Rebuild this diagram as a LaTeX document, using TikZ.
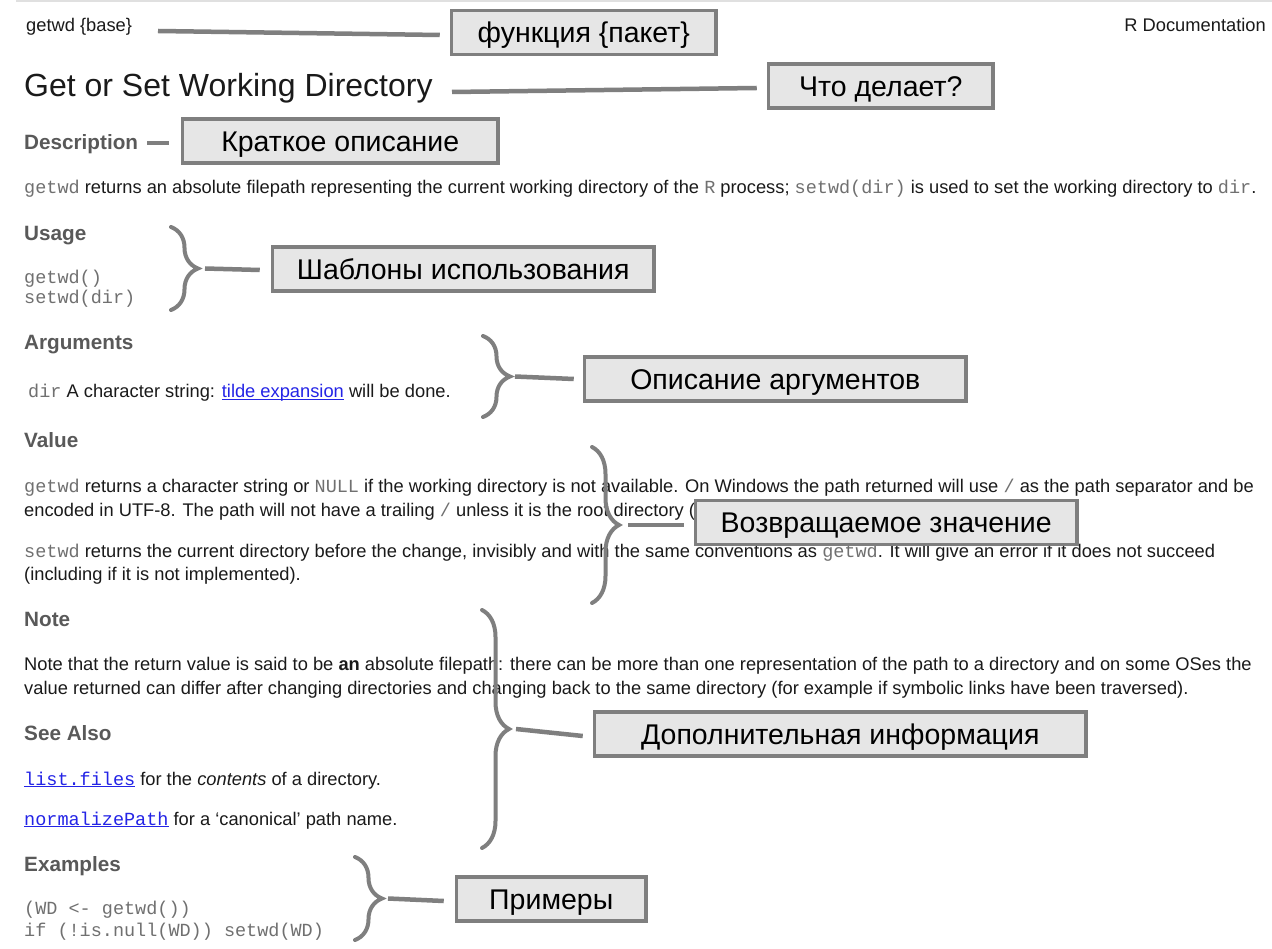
\documentclass[tikz,border=0pt]{standalone}
\usepackage{fontspec}
\setmainfont{Liberation Sans}
\setmonofont{Liberation Mono}
\usetikzlibrary{decorations.pathreplacing}
\definecolor{hdcol}{HTML}{595959}
\definecolor{monocol}{HTML}{707070}
\definecolor{lnkcol}{HTML}{2424E6}
\definecolor{boxfill}{HTML}{E6E6E6}
\definecolor{boxline}{HTML}{7F7F7F}
\definecolor{bodycol}{HTML}{1A1A1A}
\newcommand{\mc}[1]{{\ttfamily\fontsize{18.5}{21}\selectfont\color{monocol}#1}}
\newcommand{\lk}[1]{{\color{lnkcol}\underline{\smash{#1}}}}
\tikzset{
  body/.style={anchor=base west, inner sep=0pt, text=bodycol, font=\fontsize{18.3}{21}\selectfont},
  hdr/.style={anchor=base west, inner sep=0pt, text=hdcol, font=\fontsize{20.7}{24}\selectfont\bfseries},
  code/.style={anchor=base west, inner sep=0pt, text=monocol, font=\fontsize{18.5}{21}\selectfont\ttfamily},
  lbl/.style={draw=boxline, line width=3.5pt, fill=boxfill, text=black,
    font=\fontsize{28.5}{32}\selectfont, minimum height=44pt, inner sep=0pt,
    text height=20.5pt, text depth=0pt, anchor=west},
  conn/.style={draw=boxline, line width=4.5pt},
  brc/.style={draw=boxline, line width=4pt, line cap=round, decorate,
    decoration={brace, amplitude=27pt}},
}
\begin{document}
\begin{tikzpicture}[x=1pt,y=-1pt]
\useasboundingbox (0,0) rectangle (1272,949);
\fill[white] (0,0) rectangle (1272,949);
\draw[black!12, line width=1.5pt] (16,1) -- (1272,1);

% ---------- document text ----------
\node[body] (pkg) at (26,32) {getwd \{base\}};
\node[body, anchor=base east] (rdoc) at (1266,32) {R Documentation};
\node[body, font=\fontsize{32}{36}\selectfont] (title) at (24,96.5) {Get or Set Working Directory};

\node[hdr] (hdesc) at (24,150) {Description};
\node[body] (desc) at (24,194) {\mc{getwd} returns an absolute filepath representing the current working directory of the \mc{R} process; \mc{setwd(dir)} is used to set the working directory to \mc{dir}.};

\node[hdr] (husage) at (24,241) {Usage};
\node[code] (u1) at (24,284) {getwd()};
\node[code] (u2) at (24,304) {setwd(dir)};

\node[hdr] (hargs) at (24,350) {Arguments};
\node[body] (a1) at (28,398) {\mc{dir} A character string: \lk{tilde expansion} will be done.};

\node[hdr] (hval) at (24,448) {Value};
\node[body] (v1) at (24,493) {\mc{getwd} returns a character string or \mc{NULL} if the working directory is not available. On Windows the path returned will use \mc{/} as the path separator and be};
\node[body] (v2) at (24,516) {encoded in UTF-8. The path will not have a trailing \mc{/} unless it is the root directory (of};
\node[body] (v3) at (24,557) {\mc{setwd} returns the current directory before the change, invisibly and with the same conventions as \mc{getwd}. It will give an error if it does not succeed};
\node[body] (v4) at (24,580) {(including if it is not implemented).};

\node[hdr] (hnote) at (24,626) {Note};
\node[body] (n1) at (24,670) {Note that the return value is said to be \textbf{an} absolute filepath: there can be more than one representation of the path to a directory and on some OSes the};
\node[body] (n2) at (24,694) {value returned can differ after changing directories and changing back to the same directory (for example if symbolic links have been traversed).};

\node[hdr] (hsee) at (24,740) {See Also};
\node[body] (s1) at (24,785) {\lk{\mc{\color{lnkcol}list.files}} for the \textit{contents} of a directory.};
\node[body] (s2) at (24,825) {\lk{\mc{\color{lnkcol}normalizePath}} for a ‘canonical’ path name.};

\node[hdr] (hex) at (24,871) {Examples};
\node[code] (e1) at (24,914) {(WD <- getwd())};
\node[code] (e2) at (24,936) {if (!is.null(WD)) setwd(WD)};

% ---------- braces ----------
\draw[brc] (171,227) -- (171,310);
\coordinate (tip4) at (198,268.5);
\draw[brc] (483,336) -- (483,417);
\coordinate (tip5) at (510,376.5);
\draw[brc] (592,447) -- (592,603);
\coordinate (tip6) at (619,525);
\draw[brc] (482,610) -- (482,848);
\coordinate (tip7) at (509,729);
\draw[brc] (355,857) -- (355,940);
\coordinate (tip8) at (382,898.5);

% ---------- label boxes ----------
\node[lbl, minimum width=264.5pt] (b1) at (449.75,32.5) {функция \{пакет\}};
\node[lbl, minimum width=224.5pt] (b2) at (766.75,86) {Что делает?};
\node[lbl, minimum width=315.5pt] (b3) at (180.75,141) {Краткое описание};
\node[lbl, minimum width=381.5pt] (b4) at (270.75,269) {Шаблоны использования};
\node[lbl, minimum width=381.5pt] (b5) at (582.75,379) {Описание аргументов};
\node[lbl, minimum width=381.5pt] (b6) at (693.75,522.5) {Возвращаемое значение};
\node[lbl, minimum width=491.5pt] (b7) at (592.75,734) {Дополнительная информация};
\node[lbl, minimum width=189.5pt] (b8) at (454.75,899) {Примеры};

% ---------- connectors ----------
\coordinate (k1) at (158,31);
\draw[conn] (k1) -- ([xshift=-10pt,yshift=-2.5pt]b1.west);
\coordinate (k2) at (452,92);
\draw[conn] (k2) -- ([xshift=-10pt,yshift=-2pt]b2.west);
\coordinate (k3) at (147,143);
\draw[conn] (k3) -- ([xshift=-12pt,yshift=-2pt]b3.west);
\draw[conn] ([xshift=7pt]tip4) -- ([xshift=-11pt,yshift=-1pt]b4.west);
\draw[conn] ([xshift=5pt]tip5) -- ([xshift=-9pt]b5.west);
\draw[conn] ([xshift=9pt]tip6) -- ([xshift=-10pt,yshift=-2.5pt]b6.west);
\draw[conn] ([xshift=7pt]tip7) -- ([xshift=-10pt,yshift=-2pt]b7.west);
\draw[conn] ([xshift=6pt]tip8) -- ([xshift=-11pt,yshift=-2pt]b8.west);
\end{tikzpicture}
\end{document}
